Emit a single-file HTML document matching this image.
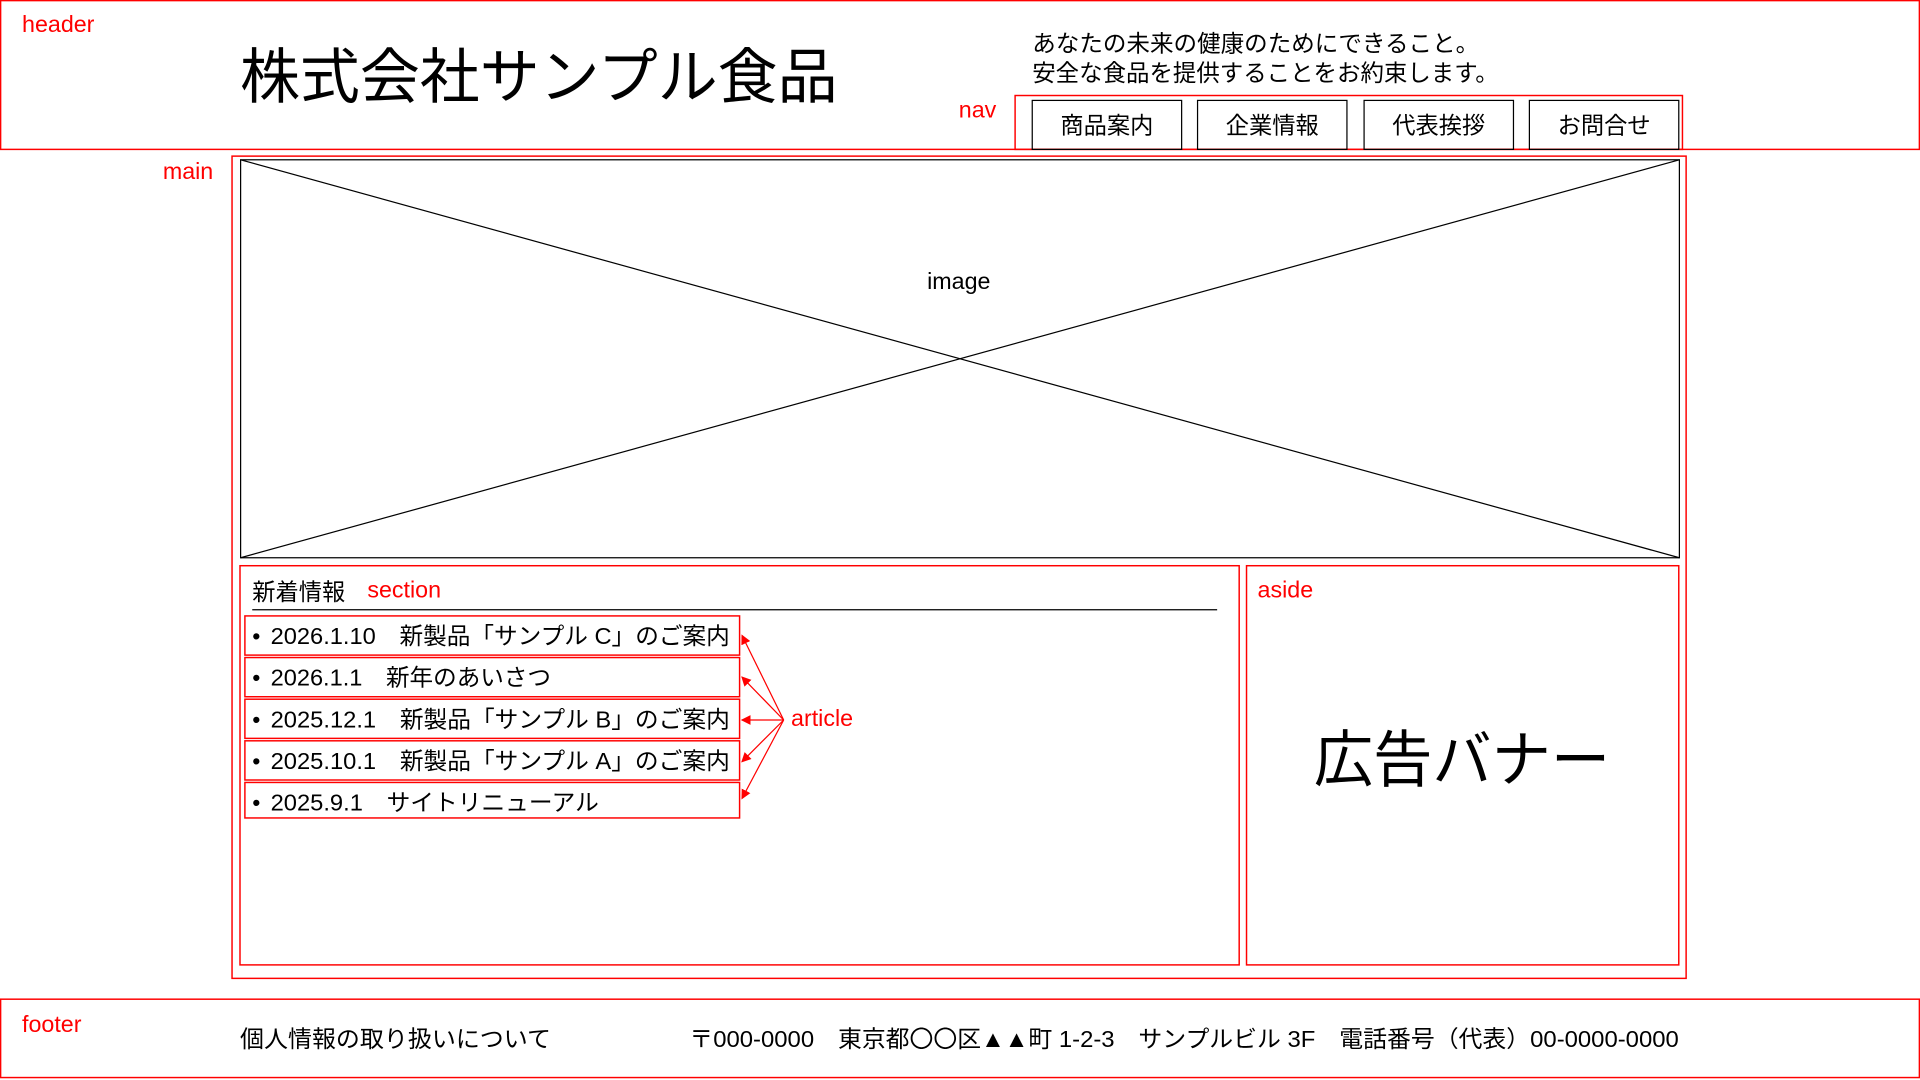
<!DOCTYPE html>
<html><head><meta charset="utf-8"><style>
html,body{margin:0;padding:0;background:#fff;width:1920px;height:1080px;overflow:hidden}
svg{display:block}
text{font-family:"Liberation Sans","Noto Sans CJK JP",sans-serif}
</style></head><body>
<svg width="1920" height="1080" viewBox="0 0 1568 882" xmlns="http://www.w3.org/2000/svg">
<defs><marker id="ah" markerWidth="8" markerHeight="8" refX="7" refY="4" orient="auto" markerUnits="userSpaceOnUse"><path d="M0,0 L8,4 L0,8 Z" fill="#f00"/></marker></defs>
<g fill="none" stroke="#f00" stroke-width="1.2">
<rect x="0.5" y="0.5" width="1567" height="121.5"/>
<rect x="829" y="78" width="545" height="44"/>
<rect x="189.5" y="127.5" width="1187.5" height="671.5"/>
<rect x="196" y="462" width="816" height="326"/>
<rect x="1018" y="462" width="353" height="326"/>
<rect x="0.5" y="816" width="1567" height="64"/>
<rect x="200" y="503" width="404" height="32"/>
<rect x="200" y="537" width="404" height="32"/>
<rect x="200" y="571" width="404" height="32"/>
<rect x="200" y="605" width="404" height="32"/>
<rect x="200" y="639" width="404" height="29"/>
</g>
<g fill="none" stroke="#000" stroke-width="1">
<rect x="843" y="82" width="122" height="40"/>
<rect x="978" y="82" width="122" height="40"/>
<rect x="1114" y="82" width="122" height="40"/>
<rect x="1249" y="82" width="122" height="40"/>
<rect x="196.5" y="130.5" width="1175" height="325"/>
<line x1="196.5" y1="130.5" x2="1371.5" y2="455.5"/>
<line x1="1371.5" y1="130.5" x2="196.5" y2="455.5"/>
<line x1="206" y1="498" x2="994" y2="498"/>
</g>
<g stroke="#f00" stroke-width="1" marker-end="url(#ah)">
<line x1="640" y1="588" x2="606" y2="519"/>
<line x1="640" y1="588" x2="606" y2="553"/>
<line x1="640" y1="588" x2="606" y2="588"/>
<line x1="640" y1="588" x2="606" y2="622"/>
<line x1="640" y1="588" x2="606" y2="652"/>
</g>
<g fill="#f00" font-size="19">
<text x="18" y="26">header</text>
<text x="783" y="96">nav</text>
<text x="133" y="146">main</text>
<text x="300" y="488">section</text>
<text x="1027" y="488">aside</text>
<text x="646" y="593">article</text>
<text x="18" y="843">footer</text>
</g>
<g fill="#000">
<text x="196" y="80" font-size="49" textLength="488" lengthAdjust="spacingAndGlyphs">株式会社サンプル食品</text>
<text x="843" y="42" font-size="19" textLength="365" lengthAdjust="spacingAndGlyphs">あなたの未来の健康のためにできること。</text>
<text x="843" y="66" font-size="19" textLength="381" lengthAdjust="spacingAndGlyphs">安全な食品を提供することをお約束します。</text>
<g font-size="19" text-anchor="middle">
<text x="904" y="109">商品案内</text>
<text x="1039" y="109">企業情報</text>
<text x="1175" y="109">代表挨拶</text>
<text x="1310" y="109">お問合せ</text>
<text x="783" y="236">image</text>
</g>
<text x="206" y="490" font-size="19">新着情報</text>
<g font-size="19">
<text x="206" y="526">•</text><text x="221" y="526" textLength="375" lengthAdjust="spacingAndGlyphs">2026.1.10　新製品「サンプル C」のご案内</text>
<text x="206" y="560">•</text><text x="221" y="560" textLength="229" lengthAdjust="spacingAndGlyphs">2026.1.1　新年のあいさつ</text>
<text x="206" y="594">•</text><text x="221" y="594" textLength="375" lengthAdjust="spacingAndGlyphs">2025.12.1　新製品「サンプル B」のご案内</text>
<text x="206" y="628">•</text><text x="221" y="628" textLength="375" lengthAdjust="spacingAndGlyphs">2025.10.1　新製品「サンプル A」のご案内</text>
<text x="206" y="662">•</text><text x="221" y="662" textLength="268" lengthAdjust="spacingAndGlyphs">2025.9.1　サイトリニューアル</text>
</g>
<text x="1194" y="638" font-size="50" text-anchor="middle" textLength="242" lengthAdjust="spacingAndGlyphs">広告バナー</text>
<text x="196" y="855" font-size="19" textLength="254" lengthAdjust="spacingAndGlyphs">個人情報の取り扱いについて</text>
<text x="563" y="855" font-size="19" textLength="808" lengthAdjust="spacingAndGlyphs">〒000-0000　東京都〇〇区▲▲町 1-2-3　サンプルビル 3F　電話番号（代表）00-0000-0000</text>
</g>
</svg>
</body></html>
